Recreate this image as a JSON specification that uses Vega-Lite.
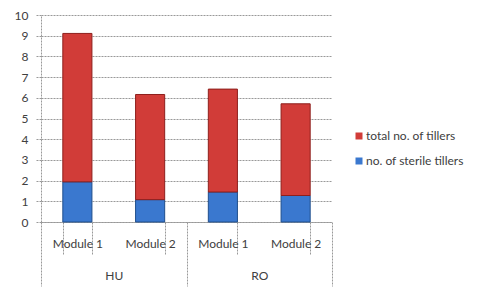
{
  "$schema": "https://vega.github.io/schema/vega-lite/v6.json",
  "width": 291,
  "height": 207,
  "autosize": {"type": "none"},
  "padding": {"left": 41, "top": 15, "right": 148, "bottom": 75},
  "background": "white",
  "config": {"view": {"stroke": null}, "font": "Lato"},
  "data": {
    "values": [
      {"cat": "HU|Module 1", "group": "HU", "series": "no. of sterile tillers", "value": 1.94},
      {"cat": "HU|Module 1", "group": "HU", "series": "total no. of tillers", "value": 7.17},
      {"cat": "HU|Module 2", "group": "HU", "series": "no. of sterile tillers", "value": 1.08},
      {"cat": "HU|Module 2", "group": "HU", "series": "total no. of tillers", "value": 5.08},
      {"cat": "RO|Module 1", "group": "RO", "series": "no. of sterile tillers", "value": 1.45},
      {"cat": "RO|Module 1", "group": "RO", "series": "total no. of tillers", "value": 4.97},
      {"cat": "RO|Module 2", "group": "RO", "series": "no. of sterile tillers", "value": 1.28},
      {"cat": "RO|Module 2", "group": "RO", "series": "total no. of tillers", "value": 4.43}
    ]
  },
  "layer": [
    {
      "mark": {"type": "bar", "strokeWidth": 1},
      "encoding": {
        "x": {
          "field": "cat", "type": "nominal", "sort": null,
          "scale": {"type": "band", "paddingInner": 0.6, "paddingOuter": 0.3},
          "axis": {
            "orient": "bottom", "title": null,
            "labelExpr": "split(datum.label, '|')[1]",
            "labelAngle": 0, "tickBand": "extent", "tickSize": 32,
            "labelPadding": -16, "labelFontSize": 12, "labelColor": "#404040",
            "domainColor": "#999999", "domainDash": [2, 1],
            "tickColor": "#999999", "tickDash": [2, 1], "grid": false
          }
        },
        "y": {
          "field": "value", "type": "quantitative", "stack": "zero",
          "scale": {"domain": [0, 10], "nice": false},
          "axis": {
            "title": null, "values": [0, 1, 2, 3, 4, 5, 6, 7, 8, 9, 10],
            "grid": true, "gridColor": "#999999", "gridDash": [2, 1],
            "domainColor": "#999999", "domainDash": [2, 1],
            "tickColor": "#999999", "tickDash": [2, 1], "tickSize": 5,
            "labelPadding": 8, "labelFontSize": 12, "labelColor": "#404040"
          }
        },
        "color": {
          "field": "series", "type": "nominal",
          "scale": {"domain": ["total no. of tillers", "no. of sterile tillers"], "range": ["#d13c38", "#3a78cf"]},
          "legend": {
            "title": null, "orient": "none", "legendX": 312, "legendY": 115,
            "padding": 0, "symbolType": "square", "symbolSize": 49,
            "symbolStrokeWidth": 0, "rowPadding": 13, "labelOffset": 1,
            "labelFontSize": 12, "labelColor": "#404040"
          }
        },
        "stroke": {
          "field": "series", "type": "nominal",
          "scale": {"domain": ["total no. of tillers", "no. of sterile tillers"], "range": ["#8e1f1c", "#1f4e8c"]},
          "legend": null
        },
        "order": {"field": "series", "sort": "ascending"}
      }
    },
    {
      "mark": {"type": "point", "opacity": 0},
      "encoding": {
        "x": {
          "field": "group", "type": "nominal",
          "scale": {"type": "band", "paddingInner": 0, "paddingOuter": 0},
          "axis": {
            "orient": "bottom", "title": null, "labelAngle": 0,
            "tickBand": "extent", "tickSize": 64, "labelPadding": -16,
            "labelFontSize": 12, "labelColor": "#404040",
            "domainColor": "#999999", "domainDash": [2, 1],
            "tickColor": "#999999", "tickDash": [2, 1], "grid": false
          }
        }
      }
    }
  ],
  "resolve": {"scale": {"x": "independent"}, "axis": {"x": "independent"}}
}
